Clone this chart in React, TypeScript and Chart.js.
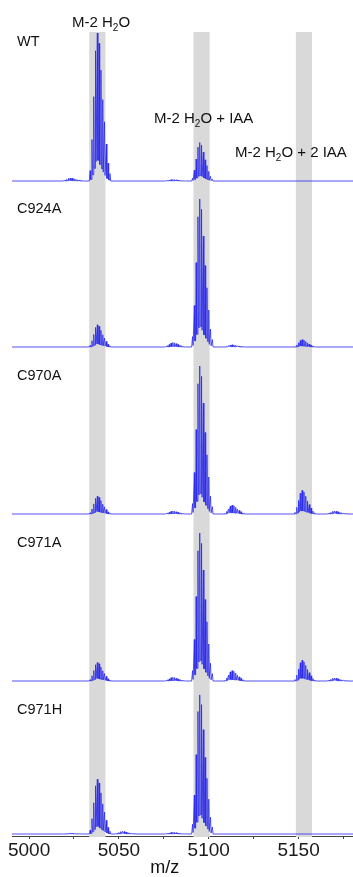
import React, { useEffect, useRef } from 'react';
import { Chart, registerables } from 'chart.js';

Chart.register(...registerables);

// ---------- data ----------
const panelNames = ['WT', 'C924A', 'C970A', 'C971A', 'C971H'];
// m/z of the first isotope peak of each isotope cluster seen in the spectra
const clusterStarts = [5019, 5034, 5048, 5076, 5091, 5109, 5148, 5166];
// relative isotope envelope (read from the WT M-2 H2O cluster)
const isotopePattern = [0.07, 0.28, 0.57, 0.88, 1.0, 0.93, 0.75, 0.55, 0.4, 0.25, 0.12, 0.05];
// maximum intensity of each cluster, % of panel full scale
const wtIntensity = [2, 100, 0, 1, 26, 0, 0, 0];
const c924aIntensity = [0, 15, 0, 3, 100, 1.5, 5, 0];
const c970aIntensity = [0, 12, 0, 2, 100, 6, 16, 2];
const c971aIntensity = [0, 12.5, 0, 2.5, 100, 7, 14, 2];
const c971hIntensity = [0.5, 37, 1.8, 1.2, 94, 0, 0, 0];
const panelIntensities = [wtIntensity, c924aIntensity, c970aIntensity, c971aIntensity, c971hIntensity];
// highlighted m/z windows
const bandStart = [5033.5, 5091.5, 5148.5];
const bandEnd = [5042.5, 5100.5, 5157.5];
// x axis ticks
const tickValues = [5000, 5025, 5050, 5075, 5100, 5125, 5150, 5175];
const labeledTicks = [5000, 5050, 5100, 5150];
const peakLabelSuffix = ['', ' + IAA', ' + 2 IAA'];

// ---------- layout / style ----------
const X_MIN = 4990.5;
const X_MAX = 5180.3;
const Y_MAX = 836;
const panelBase = [655, 489, 322, 155, 2];
const UNIT = 1.48; // y units per % intensity
const BAND_TOP = 804;
const VALLEY = 0.15;
const LINE_COLOR = 'rgba(40,40,235,0.8)';
const FONT = '"Liberation Sans", Arial, sans-serif';
const panelLabelY = [46, 213, 380, 547, 714];
const peakLabelPos = [
  [72, 27],
  [154, 123],
  [235, 157],
];

function buildSpectrum(intensity: number[], base: number) {
  const pts: { x: number; y: number }[] = [{ x: X_MIN, y: base }];
  clusterStarts.forEach((start, ci) => {
    const h = intensity[ci];
    if (!h) return;
    pts.push({ x: start - 0.5, y: base });
    let prev = 0;
    isotopePattern.forEach((r, k) => {
      const m = start + k;
      const peak = h * r * UNIT;
      if (k > 0) {
        const v = VALLEY * Math.min(prev, peak);
        pts.push({ x: m - 0.7, y: base + v });
        pts.push({ x: m - 0.3, y: base + v });
      }
      pts.push({ x: m, y: base + peak });
      prev = peak;
    });
    pts.push({ x: start + isotopePattern.length - 0.6, y: base });
  });
  pts.push({ x: X_MAX, y: base });
  return pts;
}

const bandPlugin = {
  id: 'bands',
  beforeDatasetsDraw(chart: any) {
    const { ctx, scales, chartArea } = chart;
    const xs = scales.x;
    const ys = scales.y;
    ctx.save();
    ctx.fillStyle = '#d9d9d9';
    const top = ys.getPixelForValue(BAND_TOP);
    bandStart.forEach((s, i) => {
      const x1 = xs.getPixelForValue(s);
      const x2 = xs.getPixelForValue(bandEnd[i]);
      ctx.fillRect(x1, top, x2 - x1, chartArea.bottom + 1 - top);
    });
    ctx.restore();
  },
};

function drawH2OLabel(ctx: CanvasRenderingContext2D, x: number, y: number, suffix: string) {
  ctx.font = `15px ${FONT}`;
  ctx.fillText('M-2 H', x, y);
  x += ctx.measureText('M-2 H').width;
  ctx.font = `10px ${FONT}`;
  ctx.fillText('2', x, y + 3.5);
  x += ctx.measureText('2').width;
  ctx.font = `15px ${FONT}`;
  ctx.fillText('O' + suffix, x, y);
}

const textPlugin = {
  id: 'texts',
  afterDraw(chart: any) {
    const { ctx, scales } = chart;
    ctx.save();
    ctx.fillStyle = '#111';
    ctx.textAlign = 'left';
    ctx.textBaseline = 'alphabetic';
    ctx.font = `14.5px ${FONT}`;
    panelNames.forEach((n, i) => ctx.fillText(n, 17, panelLabelY[i]));
    peakLabelSuffix.forEach((s, i) => drawH2OLabel(ctx, peakLabelPos[i][0], peakLabelPos[i][1], s));
    ctx.font = `18px ${FONT}`;
    ctx.textAlign = 'center';
    ctx.fillText('m/z', scales.x.getPixelForValue(5075.5), 873);
    ctx.restore();
  },
};

export default function App() {
  const ref = useRef<HTMLCanvasElement>(null);
  useEffect(() => {
    document.body.style.margin = '0';
    const datasets = panelNames.map((name, i) => ({
      label: name,
      data: buildSpectrum(panelIntensities[i], panelBase[i]),
      borderColor: LINE_COLOR,
      borderWidth: 1,
      pointRadius: 0,
      tension: 0,
      fill: false,
    }));
    const chart = new Chart(ref.current!, {
      type: 'line',
      data: { datasets },
      options: {
        animation: false,
        responsive: false,
        parsing: false as any,
        layout: { padding: { left: 12, right: 0, top: 0, bottom: 0 } },
        plugins: { legend: { display: false }, tooltip: { enabled: false } },
        scales: {
          x: {
            type: 'linear',
            min: X_MIN,
            max: X_MAX,
            afterBuildTicks: (scale: any) => {
              scale.ticks = tickValues.map((v) => ({ value: v }));
            },
            afterFit: (scale: any) => {
              scale.height = 877 - Y_MAX;
            },
            ticks: {
              autoSkip: false,
              maxRotation: 0,
              padding: 0,
              color: '#1a1a1a',
              font: { size: 19, family: FONT },
              callback: (v: any) => (labeledTicks.includes(Number(v)) ? String(v) : ''),
            },
            grid: { display: true, drawOnChartArea: false, drawTicks: true, tickLength: 3, color: '#444' },
            border: { display: true, color: '#444', width: 1 },
          },
          y: {
            type: 'linear',
            display: false,
            min: 0,
            max: Y_MAX,
          },
        },
      },
      plugins: [bandPlugin, textPlugin],
    });
    return () => chart.destroy();
  }, []);
  return <canvas ref={ref} width={353} height={877} style={{ display: 'block' }} />;
}
